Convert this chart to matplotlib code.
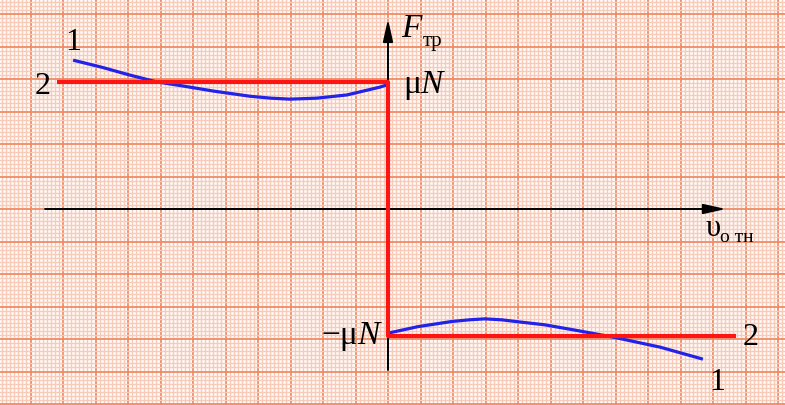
import numpy as np
import matplotlib.pyplot as plt

# уровень силы трения скольжения (в клетках сетки)
mu_n = 3.92

# кривая 1 — реальная зависимость F_тр(v_отн)
v1_left = [-9.69, -8.80, -7.94, -7.11, -6.40, -5.38, -4.25, -3.60, -3.02, -2.20, -1.26, -0.25, -0.03]
f1_left = [4.58, 4.36, 4.12, 3.91, 3.80, 3.63, 3.47, 3.41, 3.38, 3.41, 3.51, 3.75, 3.82]
v1_right = [0.0, 0.92, 1.97, 2.50, 2.98, 3.50, 4.00, 4.80, 5.66, 6.92, 8.37, 9.69]
f1_right = [-3.82, -3.62, -3.46, -3.41, -3.38, -3.41, -3.47, -3.56, -3.71, -3.94, -4.25, -4.62]

# кривая 2 — модель сухого трения
v2 = [-10.2, 0.0, 0.0, 10.7]
f2 = [mu_n, mu_n, -mu_n, -mu_n]

fig = plt.figure(figsize=(7.85, 4.05), dpi=100)
ax = fig.add_axes([0, 0, 1, 1])
ax.set_facecolor('#FFFCFA')

s = 32.5
x0, y0 = 388, 209

# миллиметровка
ax.set_xticks(np.arange(-12, 13))
ax.set_yticks(np.arange(-7, 8))
ax.set_xticks(np.arange(-12, 12.5, 0.125), minor=True)
ax.set_yticks(np.arange(-7, 7.5, 0.125), minor=True)
ax.grid(which='minor', color='#F8CBB8', lw=1.0)
ax.grid(which='major', color='#EF8C66', lw=1.3)
ax.tick_params(which='both', length=0, labelbottom=False, labelleft=False)
for sp in ax.spines.values():
    sp.set_visible(False)
ax.set_xlim(-x0 / s, (785 - x0) / s)
ax.set_ylim(-(405 - y0) / s, y0 / s)

# оси
arrow = dict(arrowstyle='-|>,head_length=0.9,head_width=0.2', lw=1.4,
             color='black', mutation_scale=15, shrinkA=0, shrinkB=0)
ax.annotate('', xy=(10.4, 0), xytext=(-10.55, 0), arrowprops=arrow)
ax.annotate('', xy=(0, 5.85), xytext=(0, -4.95), arrowprops=arrow)

ax.plot(v1_left, f1_left, color='#2222E8', lw=2.3, solid_capstyle='butt', zorder=3)
ax.plot(v1_right, f1_right, color='#2222E8', lw=2.3, solid_capstyle='butt', zorder=3)
ax.plot(v2, f2, color='#FF1414', lw=3.0, solid_capstyle='butt', zorder=4)

serif = 'Liberation Serif'
def px(x, y):
    return (x - x0) / s, (y0 - y) / s

ax.text(*px(73, 50), '1', family=serif, fontsize=23, ha='center', va='baseline')
ax.text(*px(43, 94), '2', family=serif, fontsize=23, ha='center', va='baseline')
ax.text(*px(751, 345), '2', family=serif, fontsize=23, ha='center', va='baseline')
ax.text(*px(717, 390), '1', family=serif, fontsize=23, ha='center', va='baseline')

ax.text(*px(401, 37), 'F', family=serif, style='italic', fontsize=24, ha='left', va='baseline')
ax.text(*px(423, 46), 'тр', family=serif, fontsize=15, ha='left', va='baseline')
ax.text(*px(403, 93), 'μ', family=serif, fontsize=24, ha='left', va='baseline')
ax.text(*px(420, 93), 'N', family=serif, style='italic', fontsize=24, ha='left', va='baseline')
ax.text(*px(358, 344), '−μ', family=serif, fontsize=24, ha='right', va='baseline')
ax.text(*px(357, 344), 'N', family=serif, style='italic', fontsize=24, ha='left', va='baseline')
ax.text(*px(706, 236), 'υ', family=serif, fontsize=22, ha='left', va='baseline')
ax.text(*px(720, 242), 'о тн', family=serif, fontsize=14, ha='left', va='baseline')

fig.savefig('out.png', dpi=100, facecolor='white')
